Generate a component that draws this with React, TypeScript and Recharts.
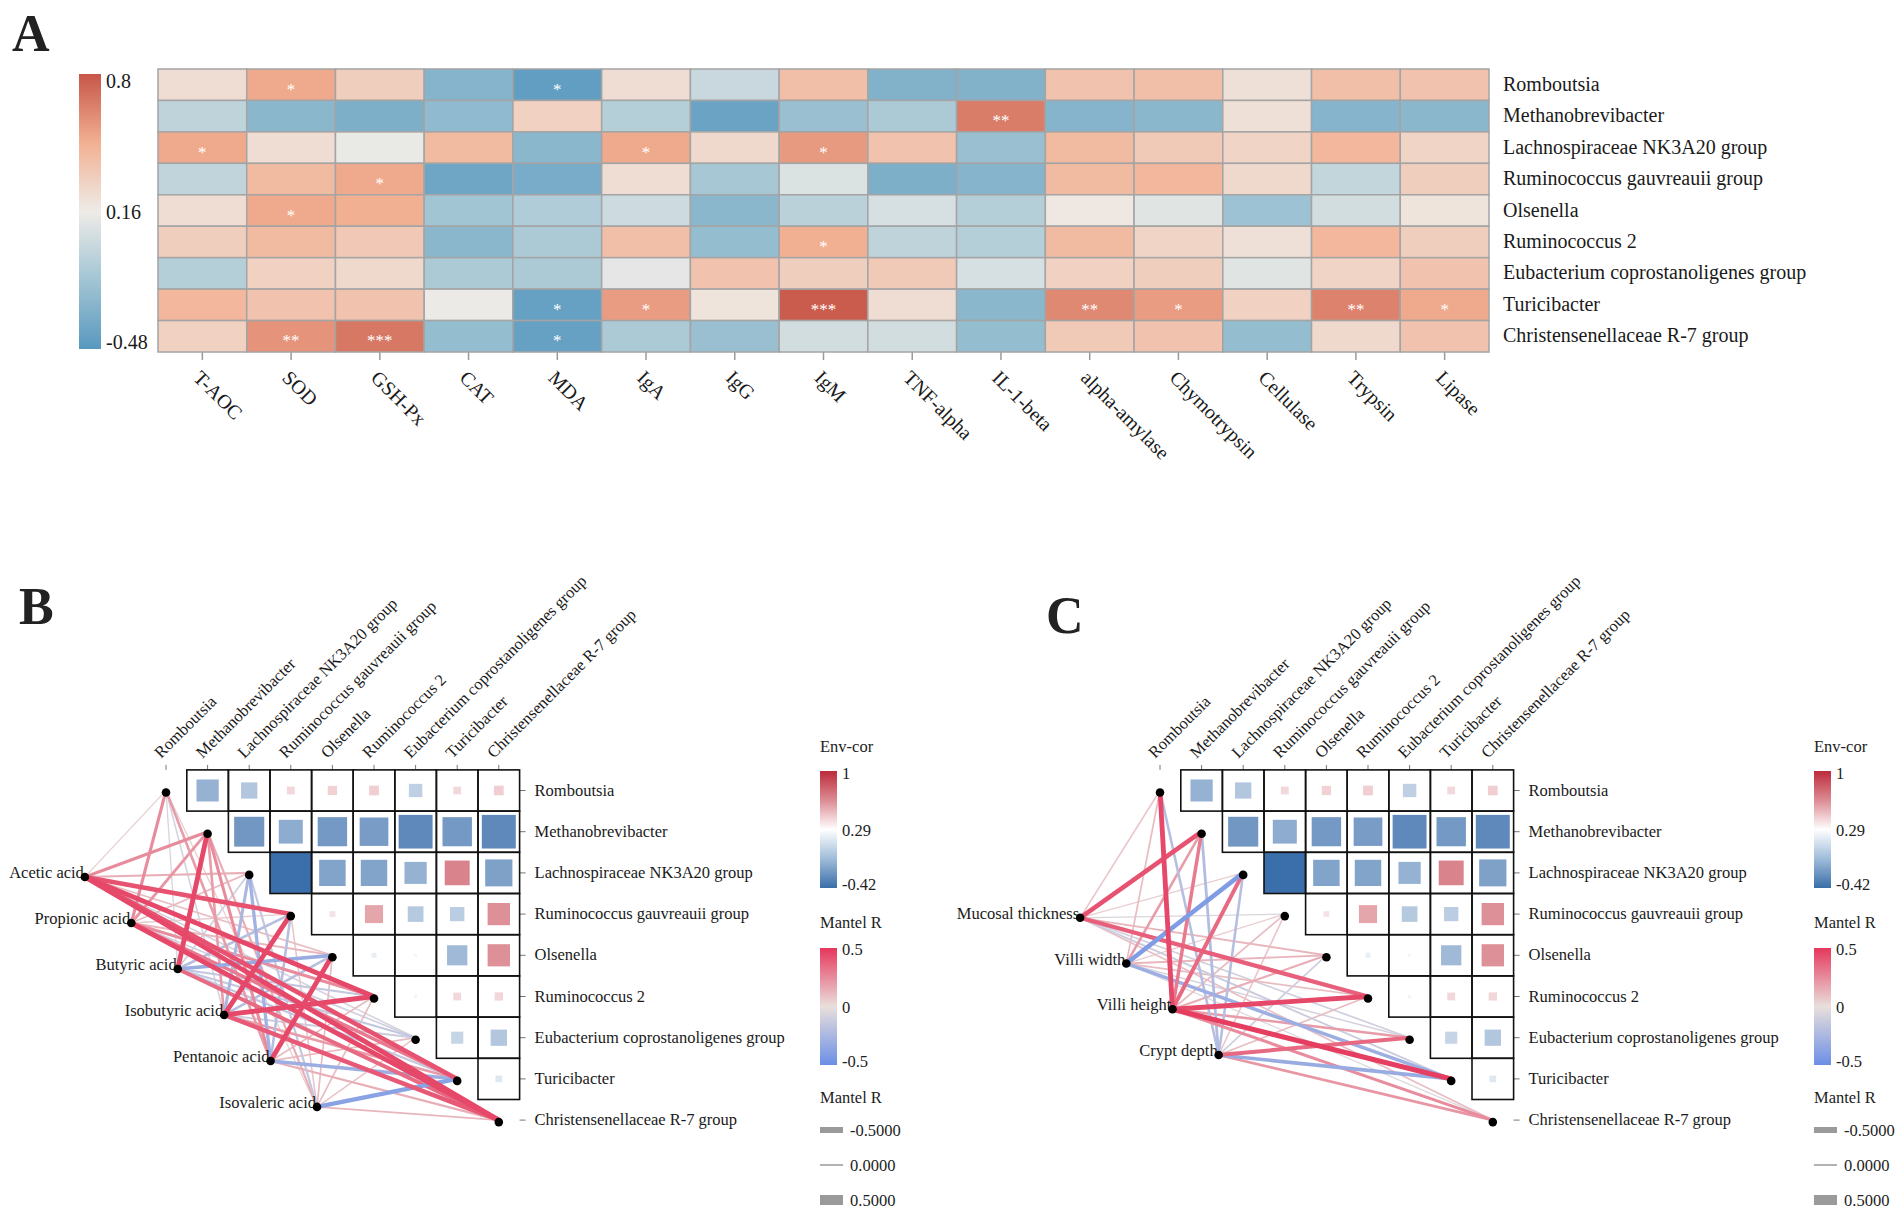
import React from 'react';
import { ScatterChart, Scatter, XAxis, YAxis, ReferenceLine } from 'recharts';

const FONT = '"Liberation Serif", "Times New Roman", Times, serif';
const INK = '#1a1a1a';

// ---------- panel A: genera x physiological indices ----------
const heatCols = [
  'T-AOC', 'SOD', 'GSH-Px', 'CAT', 'MDA', 'IgA', 'IgG', 'IgM', 'TNF-alpha',
  'IL-1-beta', 'alpha-amylase', 'Chymotrypsin', 'Cellulase', 'Trypsin', 'Lipase',
];
const genera = [
  'Romboutsia',
  'Methanobrevibacter',
  'Lachnospiraceae NK3A20 group',
  'Ruminococcus gauvreauii group',
  'Olsenella',
  'Ruminococcus 2',
  'Eubacterium coprostanoligenes group',
  'Turicibacter',
  'Christensenellaceae R-7 group',
];
const heatValues = [
  [0.24, 0.5, 0.32, -0.28, -0.44, 0.24, 0.0, 0.4, -0.3, -0.3, 0.38, 0.4, 0.22, 0.4, 0.38],
  [-0.04, -0.26, -0.32, -0.24, 0.3, -0.08, -0.4, -0.2, -0.12, 0.66, -0.28, -0.26, 0.22, -0.28, -0.26],
  [0.5, 0.24, 0.14, 0.42, -0.26, 0.5, 0.26, 0.56, 0.38, -0.2, 0.42, 0.34, 0.28, 0.44, 0.28],
  [-0.03, 0.42, 0.5, -0.38, -0.34, 0.24, -0.14, 0.08, -0.32, -0.28, 0.42, 0.44, 0.26, -0.02, 0.32],
  [0.24, 0.5, 0.48, -0.16, -0.1, 0.02, -0.26, -0.06, 0.06, -0.08, 0.18, 0.1, -0.18, 0.04, 0.2],
  [0.32, 0.42, 0.35, -0.26, -0.12, 0.4, -0.22, 0.48, -0.04, -0.08, 0.42, 0.28, 0.22, 0.44, 0.32],
  [-0.08, 0.3, 0.26, -0.12, -0.12, 0.12, 0.38, 0.32, 0.34, 0.06, 0.3, 0.32, 0.1, 0.28, 0.38],
  [0.44, 0.38, 0.38, 0.15, -0.42, 0.55, 0.2, 0.78, 0.24, -0.26, 0.62, 0.55, 0.3, 0.64, 0.5],
  [0.3, 0.58, 0.68, -0.22, -0.42, -0.12, -0.2, 0.04, 0.04, -0.22, 0.34, 0.38, -0.22, 0.26, 0.38],
];
const heatStars = [
  ['', '*', '', '', '*', '', '', '', '', '', '', '', '', '', ''],
  ['', '', '', '', '', '', '', '', '', '**', '', '', '', '', ''],
  ['*', '', '', '', '', '*', '', '*', '', '', '', '', '', '', ''],
  ['', '', '*', '', '', '', '', '', '', '', '', '', '', '', ''],
  ['', '*', '', '', '', '', '', '', '', '', '', '', '', '', ''],
  ['', '', '', '', '', '', '', '*', '', '', '', '', '', '', ''],
  ['', '', '', '', '', '', '', '', '', '', '', '', '', '', ''],
  ['', '', '', '', '*', '*', '', '***', '', '', '**', '*', '', '**', '*'],
  ['', '**', '***', '', '*', '', '', '', '', '', '', '', '', '', ''],
];
const heatScaleTicks = [0.8, 0.16, -0.48];

// ---------- panels B and C: Mantel networks ----------
const scfaVars = ['Acetic acid', 'Propionic acid', 'Butyric acid', 'Isobutyric acid', 'Pentanoic acid', 'Isovaleric acid'];
const intestineVars = ['Mucosal thickness', 'Villi width', 'Villi height', 'Crypt depth'];

// genus-genus correlation, upper triangle (row i against genera i+1 ..)
const generaCor = [
  [-0.12, -0.065, 0.036, 0.05, 0.055, -0.044, 0.035, 0.055],
  [-0.22, -0.14, -0.21, -0.2, -0.28, -0.21, -0.28],
  [-0.42, -0.17, -0.17, -0.12, 0.36, -0.18],
  [0.02, 0.19, -0.06, -0.05, 0.29],
  [-0.006, -0.002, -0.1, 0.29],
  [0.005, 0.036, 0.04],
  [-0.036, -0.065],
  [-0.011],
];

// Mantel r, environment variable (row) x genus (column)
const mantelScfa = [
  [0.04, 0.25, 0.14, 0.42, 0.1, 0.45, -0.08, 0.42, 0.45],
  [0.25, 0.22, 0.1, 0.06, 0.12, 0.25, -0.1, 0.3, 0.45],
  [-0.06, 0.45, -0.1, -0.2, -0.32, -0.15, -0.15, -0.15, 0.35],
  [-0.08, 0.2, -0.25, 0.45, -0.2, 0.45, -0.12, 0.2, 0.4],
  [0.2, 0.25, -0.28, -0.2, 0.45, 0.1, 0.1, -0.3, 0.15],
  [0.05, 0.15, -0.15, 0.08, 0.1, 0.1, 0.08, -0.38, 0.12],
];
const mantelIntestine = [
  [0.08, 0.42, 0.05, -0.06, 0.12, 0.38, -0.1, -0.12, 0.1],
  [0.1, 0.2, -0.42, 0.06, 0.12, 0.1, -0.08, -0.3, -0.05],
  [0.45, 0.3, 0.35, 0.1, 0.15, 0.45, 0.2, 0.48, 0.25],
  [-0.2, -0.22, -0.2, 0.08, -0.1, 0.1, 0.35, -0.32, 0.22],
];

const envCorTicks = ['1', '0.29', '-0.42'];
const mantelColorTicks = ['0.5', '0', '-0.5'];
const mantelSizeTicks = [-0.5, 0, 0.5];

// ---------- colour helpers ----------
type RGB = [number, number, number];
const rgb = (c: RGB) => `rgb(${c.map((v) => Math.round(v)).join(',')})`;
const mix = (a: RGB, b: RGB, t: number): RGB => [
  a[0] + (b[0] - a[0]) * t,
  a[1] + (b[1] - a[1]) * t,
  a[2] + (b[2] - a[2]) * t,
];
function ramp(stops: [number, RGB][], v: number) {
  if (v <= stops[0][0]) return rgb(stops[0][1]);
  for (let i = 1; i < stops.length; i++) {
    if (v <= stops[i][0]) {
      const t = (v - stops[i - 1][0]) / (stops[i][0] - stops[i - 1][0]);
      return rgb(mix(stops[i - 1][1], stops[i][1], t));
    }
  }
  return rgb(stops[stops.length - 1][1]);
}

const heatStops: [number, RGB][] = [
  [-0.48, [88, 152, 190]],
  [-0.16, [162, 197, 212]],
  [0.16, [238, 235, 231]],
  [0.48, [242, 176, 146]],
  [0.8, [199, 86, 72]],
];
const heatColor = (v: number) => ramp(heatStops, v);

const mantelStops: [number, RGB][] = [
  [-0.5, [107, 143, 230]],
  [0, [233, 223, 220]],
  [0.5, [230, 55, 92]],
];
const mantelColor = (r: number) => ramp(mantelStops, r);
const mantelWidth = (r: number) => 0.8 + 9 * Math.abs(r);

// square side and colour strength, each sign scaled to its legend limit
const corStrength = (r: number) => Math.min(1, Math.sqrt(Math.abs(r) / (r < 0 ? 0.42 : 1)));
const corColor = (r: number) =>
  rgb(mix([255, 255, 255], r < 0 ? [59, 111, 171] : [192, 48, 63], corStrength(r)));

// ---------- panel A ----------
const A = { width: 1902, height: 480, left: 158, right: 1489, top: 69, bottom: 352, xAxisH: 110, yAxisW: 400 };
const heatCellW = (A.right - A.left) / heatCols.length;
const heatCellH = (A.bottom - A.top) / genera.length;
const heatData = heatValues.flatMap((row, i) =>
  row.map((v, j) => ({ x: j, y: i, v, star: heatStars[i][j] })),
);

function HeatCell(props: any) {
  const { cx, cy, payload } = props;
  return (
    <g>
      <rect
        x={cx - heatCellW / 2}
        y={cy - heatCellH / 2}
        width={heatCellW}
        height={heatCellH}
        fill={heatColor(payload.v)}
        stroke="#a4a4a4"
        strokeWidth={1.5}
      />
      {payload.star ? (
        <text x={cx} y={cy + 10} textAnchor="middle" fill="#fff" fontSize={17} fontFamily={FONT}>
          {payload.star}
        </text>
      ) : null}
    </g>
  );
}

function HeatXTick({ x, y, payload }: any) {
  return (
    <text transform={`translate(${x - 10},${y + 17}) rotate(45)`} fontSize={20} fontFamily={FONT} fill={INK}>
      {heatCols[payload.value]}
    </text>
  );
}

function HeatYTick({ x, y, payload }: any) {
  return (
    <text x={x} y={y} dy={6} fontSize={20} fontFamily={FONT} fill={INK}>
      {genera[payload.value]}
    </text>
  );
}

function HeatPanel() {
  return (
    <div style={{ position: 'absolute', left: 0, top: 0 }}>
      <ScatterChart
        width={A.width}
        height={A.height}
        margin={{
          top: A.top,
          left: A.left,
          right: A.width - A.right - A.yAxisW,
          bottom: A.height - A.bottom - A.xAxisH,
        }}
      >
        <XAxis
          type="number"
          dataKey="x"
          domain={[-0.5, heatCols.length - 0.5]}
          ticks={heatCols.map((_, i) => i)}
          interval={0}
          height={A.xAxisH}
          tickSize={8}
          tickMargin={2}
          axisLine={false}
          tickLine={{ stroke: '#9a9a9a', strokeWidth: 1.5 }}
          tick={<HeatXTick />}
        />
        <YAxis
          type="number"
          dataKey="y"
          orientation="right"
          reversed
          domain={[-0.5, genera.length - 0.5]}
          ticks={genera.map((_, i) => i)}
          interval={0}
          width={A.yAxisW}
          tickSize={0}
          tickMargin={14}
          axisLine={false}
          tickLine={false}
          tick={<HeatYTick />}
        />
        <Scatter data={heatData} shape={(p: any) => <HeatCell {...p} />} isAnimationActive={false} />
      </ScatterChart>
    </div>
  );
}

function HeatColorBar() {
  const top = 74;
  const h = 275;
  const vMax = heatStops[heatStops.length - 1][0];
  const vMin = heatStops[0][0];
  return (
    <svg style={{ position: 'absolute', left: 79, top: 0 }} width={80} height={370}>
      <defs>
        <linearGradient id="heatGrad" x1="0" y1="0" x2="0" y2="1">
          {[...heatStops].reverse().map(([v]) => (
            <stop key={v} offset={`${((vMax - v) / (vMax - vMin)) * 100}%`} stopColor={heatColor(v)} />
          ))}
        </linearGradient>
      </defs>
      <rect x={0} y={top} width={22} height={h} fill="url(#heatGrad)" />
      {heatScaleTicks.map((t, i) => {
        const baseline = [top + 13.5, top + h / 2 + 7, top + h][i];
        return (
          <text key={t} x={27} y={baseline} fontSize={20} fontFamily={FONT} fill={INK}>
            {t}
          </text>
        );
      })}
    </svg>
  );
}

// ---------- panels B / C ----------
const M = { row1: 790.5, cw: 41.6, ch: 41.2, chartTop: 560, chartH: 655, xAxisH: 190, yAxisW: 300 };

function CorCell(props: any) {
  const { cx, cy, payload } = props;
  const f = corStrength(payload.r);
  const w = M.cw * f;
  const h = M.ch * f;
  return (
    <g>
      <rect x={cx - w / 2} y={cy - h / 2} width={w} height={h} fill={corColor(payload.r)} />
      <rect x={cx - M.cw / 2} y={cy - M.ch / 2} width={M.cw} height={M.ch} fill="none" stroke="#111" strokeWidth={1.6} />
    </g>
  );
}

function GenusNode(props: any) {
  return <circle cx={props.cx} cy={props.cy + 2} r={4.3} fill="#000" />;
}

function EnvNode(props: any) {
  const { cx, cy, payload } = props;
  return (
    <g>
      <text x={cx - 1} y={cy + 1} textAnchor="end" fontSize={16.5} fontFamily={FONT} fill={INK}>
        {payload.name}
      </text>
      <circle cx={cx} cy={cy} r={4.3} fill="#000" />
    </g>
  );
}

function TopTick({ x, y, payload }: any) {
  return (
    <text transform={`translate(${x - 5},${y - 3}) rotate(-45)`} fontSize={16.5} fontFamily={FONT} fill={INK}>
      {genera[payload.value - 1]}
    </text>
  );
}

function RightTick({ x, y, payload }: any) {
  return (
    <text x={x} y={y} dy={5} fontSize={16.5} fontFamily={FONT} fill={INK}>
      {genera[payload.value - 1]}
    </text>
  );
}

interface NetworkProps {
  chartLeft: number;
  col1: number;
  envNames: string[];
  mantel: number[][];
  envStart: [number, number];
  envStep: number;
}

function NetworkPanel({ chartLeft, col1, envNames, mantel, envStart, envStep }: NetworkProps) {
  const plotLeft = col1 - 2.5 * M.cw;
  const plotRight = col1 + 8.5 * M.cw;
  const plotTop = M.row1 - M.ch / 2;
  const plotBottom = plotTop + 9 * M.ch;
  const width = Math.ceil(plotRight - chartLeft + M.yAxisW + 10);
  const margin = {
    left: plotLeft - chartLeft,
    right: width - (plotRight - chartLeft) - M.yAxisW,
    top: plotTop - M.chartTop - M.xAxisH,
    bottom: M.chartH - (plotBottom - M.chartTop),
  };

  const cells = generaCor.flatMap((row, i) => row.map((r, m) => ({ x: i + 2 + m, y: i + 1, r })));
  const genusNodes = genera.map((name, i) => ({ x: i + 1, y: i + 1, name }));
  const envNodes = envNames.map((name, k) => ({
    x: envStart[0] + k * envStep,
    y: envStart[1] + k * envStep,
    name,
  }));
  const links = mantel
    .flatMap((row, k) => row.map((r, s) => ({ r, from: envNodes[k], to: genusNodes[s], key: `${k}-${s}` })))
    .sort((a, b) => Math.abs(a.r) - Math.abs(b.r));

  return (
    <div style={{ position: 'absolute', left: chartLeft, top: M.chartTop }}>
      <ScatterChart width={width} height={M.chartH} margin={margin}>
        <XAxis
          type="number"
          dataKey="x"
          orientation="top"
          domain={[-1.5, 9.5]}
          ticks={genera.map((_, i) => i + 1)}
          interval={0}
          height={M.xAxisH}
          tickSize={5}
          tickMargin={3}
          axisLine={false}
          tickLine={{ stroke: '#777' }}
          tick={<TopTick />}
        />
        <YAxis
          type="number"
          dataKey="y"
          orientation="right"
          reversed
          domain={[0.5, 9.5]}
          ticks={genera.map((_, i) => i + 1)}
          interval={0}
          width={M.yAxisW}
          tickSize={6}
          tickMargin={9}
          axisLine={false}
          tickLine={{ stroke: '#777' }}
          tick={<RightTick />}
        />
        {links.map((l) => (
          <ReferenceLine
            key={l.key}
            segment={[
              { x: l.from.x, y: l.from.y },
              { x: l.to.x, y: l.to.y },
            ]}
            stroke={mantelColor(l.r)}
            strokeWidth={mantelWidth(l.r)}
            ifOverflow="visible"
          />
        ))}
        <Scatter data={cells} shape={(p: any) => <CorCell {...p} />} isAnimationActive={false} />
        <Scatter data={genusNodes} shape={(p: any) => <GenusNode {...p} />} isAnimationActive={false} />
        <Scatter data={envNodes} shape={(p: any) => <EnvNode {...p} />} isAnimationActive={false} />
      </ScatterChart>
    </div>
  );
}

function NetworkLegend({ left }: { left: number }) {
  const top = 730;
  const txt = { fontSize: 16.5, fontFamily: FONT, fill: '#222' };
  const envBar = { y: 41, h: 117 };
  const manBar = { y: 218, h: 117 };
  return (
    <svg style={{ position: 'absolute', left, top }} width={110} height={485}>
      <defs>
        <linearGradient id={`envGrad${left}`} x1="0" y1="0" x2="0" y2="1">
          <stop offset="0%" stopColor="#bd2b3b" />
          <stop offset="25%" stopColor="#dc8b93" />
          <stop offset="50%" stopColor="#ffffff" />
          <stop offset="75%" stopColor="#9fbcd9" />
          <stop offset="100%" stopColor="#3a6ea9" />
        </linearGradient>
        <linearGradient id={`manGrad${left}`} x1="0" y1="0" x2="0" y2="1">
          <stop offset="0%" stopColor={mantelColor(0.5)} />
          <stop offset="50%" stopColor={mantelColor(0)} />
          <stop offset="100%" stopColor={mantelColor(-0.5)} />
        </linearGradient>
      </defs>
      <text x={0} y={22} {...txt}>Env-cor</text>
      <rect x={0} y={envBar.y} width={17} height={envBar.h} fill={`url(#envGrad${left})`} />
      {envCorTicks.map((t, i) => (
        <text key={t} x={22} y={[envBar.y + 8, envBar.y + envBar.h / 2 + 6, envBar.y + envBar.h + 2][i]} {...txt}>
          {t}
        </text>
      ))}
      <text x={0} y={198} {...txt}>Mantel R</text>
      <rect x={0} y={manBar.y} width={17} height={manBar.h} fill={`url(#manGrad${left})`} />
      {mantelColorTicks.map((t, i) => (
        <text key={t} x={22} y={[manBar.y + 7, manBar.y + manBar.h / 2 + 6, manBar.y + manBar.h + 2][i]} {...txt}>
          {t}
        </text>
      ))}
      <text x={0} y={373} {...txt}>Mantel R</text>
      {mantelSizeTicks.map((v, i) => {
        const cy = 400 + i * 35;
        const h = [6, 1.5, 10][i];
        return (
          <g key={v}>
            <rect x={0} y={cy - h / 2} width={23} height={h} fill="#9a9a9a" />
            <text x={30} y={cy + 6} {...txt}>{v.toFixed(4)}</text>
          </g>
        );
      })}
    </svg>
  );
}

function PanelLetter({ label, x, y }: { label: string; x: number; y: number }) {
  return (
    <svg style={{ position: 'absolute', left: x, top: y - 50, pointerEvents: 'none' }} width={60} height={64}>
      <text x={0} y={50} fontSize={52} fontWeight="bold" fontFamily={FONT} fill="#222">
        {label}
      </text>
    </svg>
  );
}

export default function App() {
  return (
    <div
      style={{
        position: 'absolute',
        left: 0,
        top: 0,
        width: 1902,
        height: 1215,
        background: '#fff',
        fontFamily: FONT,
        overflow: 'hidden',
      }}
    >
      <HeatPanel />
      <HeatColorBar />
      <NetworkPanel
        chartLeft={0}
        col1={166}
        envNames={scfaVars}
        mantel={mantelScfa}
        envStart={[-0.95, 3.1]}
        envStep={1.116}
      />
      <NetworkPanel
        chartLeft={900}
        col1={1160}
        envNames={intestineVars}
        mantel={mantelIntestine}
        envStart={[-0.92, 4.09]}
        envStep={1.11}
      />
      <NetworkLegend left={820} />
      <NetworkLegend left={1814} />
      <PanelLetter label="A" x={12} y={51} />
      <PanelLetter label="B" x={19} y={624} />
      <PanelLetter label="C" x={1046} y={633} />
    </div>
  );
}
